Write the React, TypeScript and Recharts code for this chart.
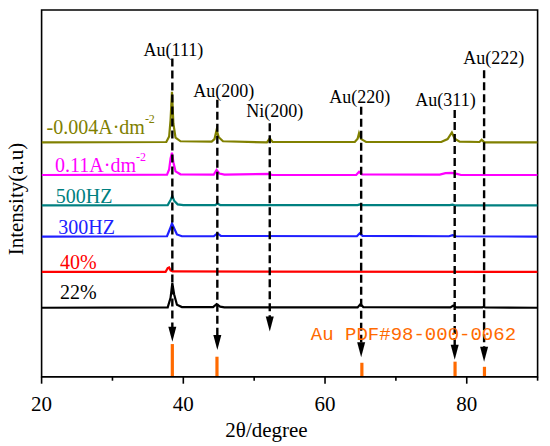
import React from "react";
import {
  LineChart,
  Line,
  XAxis,
  YAxis,
  ReferenceLine,
  ReferenceDot,
  ReferenceArea,
} from "recharts";

const FONT = "'Liberation Serif', 'Times New Roman', serif";

// x ticks (2θ, degree)
const xTicks = [20, 30, 40, 50, 60, 70, 80, 90];

// XRD patterns, [2θ, intensity offset a.u.]
const olive = [
  [20, 63.9], [37.6, 64.0], [38.0, 65.5], [38.2, 70], [38.4, 77.7], [38.6, 69], [38.9, 65.2], [39.6, 64.2],
  [44.0, 64.1], [44.4, 64.8], [44.7, 67.3], [45.0, 65.3], [45.6, 64.2], [51.8, 63.9], [52.2, 65.0], [52.6, 64.0],
  [64.2, 64.0], [64.6, 64.9], [64.8, 66.4], [65.1, 64.8], [65.8, 64.0], [76.4, 64.0], [77.3, 64.8], [77.9, 66.6],
  [78.3, 64.9], [79.0, 64.1], [81.8, 64.0], [82.1, 64.6], [82.5, 63.9], [90, 63.9],
];
const pink = [
  [20, 55.0], [37.7, 55.1], [38.0, 56.5], [38.2, 59.5], [38.4, 61.1], [38.6, 58.5], [38.9, 56.0], [39.6, 55.2],
  [44.3, 55.1], [44.7, 56.4], [45.1, 55.4], [45.8, 55.1], [52.2, 55.3], [52.5, 55.0], [64.4, 55.0], [64.8, 55.9],
  [65.2, 55.2], [76.2, 55.1], [77.0, 55.5], [77.9, 55.6], [78.6, 55.3], [79.2, 55.0], [90, 55.0],
];
const teal = [
  [20, 46.7], [37.8, 46.8], [38.2, 48.2], [38.45, 49.3], [38.7, 48.0], [39.2, 47.0], [40, 46.8], [44.5, 46.8],
  [44.8, 47.2], [45.2, 46.8], [64.6, 46.8], [64.9, 47.0], [65.3, 46.8], [77.6, 46.8], [78.0, 46.9], [78.4, 46.7],
  [90, 46.7],
];
const blue = [
  [20, 38.2], [37.7, 38.3], [38.1, 40.2], [38.4, 41.8], [38.7, 40.5], [39.1, 38.8], [39.8, 38.3], [44.3, 38.3],
  [44.8, 39.1], [45.3, 38.4], [64.5, 38.3], [64.9, 39.1], [65.3, 38.4], [77.5, 38.3], [78.0, 38.6], [78.5, 38.3],
  [90, 38.2],
];
const red = [
  [20, 28.6], [37.5, 28.6], [37.8, 29.6], [38.0, 29.8], [38.2, 29.0], [38.5, 28.7], [90, 28.6],
];
const black = [
  [20, 18.8], [37.8, 18.9], [38.2, 21.5], [38.45, 25.5], [38.7, 22.5], [39.1, 19.6], [39.8, 19.0], [44.2, 19.0],
  [44.7, 19.8], [45.2, 19.1], [45.8, 18.9], [64.6, 18.9], [65.0, 19.8], [65.4, 19.0], [77.7, 18.9], [78.1, 19.4],
  [78.5, 18.9], [82.2, 18.9], [82.4, 19.1], [82.6, 18.9], [90, 18.8],
];

const seriesNames = ["-0.004A·dm", "0.11A·dm", "500HZ", "300HZ", "40%", "22%"];
const seriesColors = ["#808000", "#ff00ff", "#008080", "#2020ff", "#ff0000", "#000000"];
const seriesData = [olive, pink, teal, blue, red, black];
// label anchor [x, y] and whether a "-2" exponent follows
const seriesLabelPos = [[20.7, 68.2], [21.9, 57.7], [22.0, 49.3], [22.35, 40.9], [22.6, 31.4], [22.6, 23.2]];
const seriesSup = [true, true, false, false, false, false];

// peak assignments: label, 2θ, label pos, dashed arrow from / to
const peakNames = ["Au(111)", "Au(200)", "Ni(200)", "Au(220)", "Au(311)", "Au(222)"];
const peakX = [38.45, 44.8, 52.2, 65.1, 78.3, 82.45];
const peakLabelPos = [[38.6, 89.1], [45.7, 78.0], [52.9, 72.5], [64.9, 76.4], [77.0, 75.5], [83.8, 86.8]];
const arrowTop = [86.8, 75.5, 69.1, 73.6, 72.7, 83.6];
const arrowTip = [9.5, 7.3, 12.3, 5.3, 4.6, 4.1];

// Au PDF#98-000-0062 reference lines
const pdfX = [38.45, 44.75, 65.2, 78.35, 82.5];
const pdfI = [8.9, 5.45, 3.8, 4.1, 2.7];

const toRows = (pts: number[][]) => pts.map(([x, y]) => ({ x, y }));

const XTick = (props: any) => {
  const { x, y, payload } = props;
  const major = payload.value % 20 === 0;
  return (
    <g>
      <line x1={x} y1={y} x2={x} y2={y + (major ? 7 : 4)} stroke="#000" strokeWidth={1.6} />
      {major && (
        <text x={x} y={y + 27} textAnchor="middle" dominantBaseline="central" fontSize={21} fontFamily={FONT} fill="#000">
          {payload.value}
        </text>
      )}
    </g>
  );
};

export default function App() {
  return (
    <div style={{ position: "absolute", left: 0, top: 0, width: 550, height: 446, background: "#fff" }}>
      <LineChart width={550} height={446} margin={{ top: 10, right: 12.4, bottom: 9.3, left: 41.6 }}>
        <XAxis
          dataKey="x"
          type="number"
          domain={[20, 90]}
          ticks={xTicks}
          allowDataOverflow
          height={60}
          tickSize={0}
          tickMargin={0}
          tickLine={false}
          tick={<XTick />}
          axisLine={{ stroke: "#000", strokeWidth: 1.6 }}
        />
        <YAxis type="number" domain={[0, 100]} width={0} tick={false} tickLine={false} axisLine={{ stroke: "#000", strokeWidth: 1.6 }} />

        <ReferenceArea x1={20} x2={90} y1={0} y2={100} fill="none" stroke="#000" strokeWidth={1.6} />

        {seriesData.map((pts, i) => (
          <Line
            key={seriesNames[i]}
            data={toRows(pts)}
            dataKey="y"
            type="linear"
            stroke={seriesColors[i]}
            strokeWidth={2.2}
            dot={false}
            isAnimationActive={false}
          />
        ))}

        {pdfX.map((x, i) => (
          <ReferenceLine
            key={"pdf" + i}
            segment={[{ x, y: 0 }, { x, y: pdfI[i] }]}
            stroke="#ff6a00"
            strokeWidth={3.2}
          />
        ))}

        {peakX.map((x, i) => (
          <ReferenceLine
            key={"ar" + i}
            segment={[{ x, y: arrowTop[i] }, { x, y: arrowTip[i] + 4 }]}
            stroke="#000"
            strokeWidth={2.4}
            strokeDasharray="8 4"
          />
        ))}
        {peakX.map((x, i) => (
          <ReferenceDot
            key={"ah" + i}
            x={x}
            y={arrowTip[i]}
            r={1}
            shape={(p: any) => (
              <polygon points={`${p.cx - 4},${p.cy - 15} ${p.cx + 4},${p.cy - 15} ${p.cx},${p.cy}`} fill="#000" />
            )}
          />
        ))}
        {peakNames.map((name, i) => (
          <ReferenceDot
            key={"pl" + i}
            x={peakLabelPos[i][0]}
            y={peakLabelPos[i][1]}
            r={1}
            shape={(p: any) => (
              <text x={p.cx} y={p.cy} textAnchor="middle" dominantBaseline="central" fontSize={18} fontFamily={FONT} fill="#000">
                {name}
              </text>
            )}
          />
        ))}
        {seriesNames.map((name, i) => (
          <ReferenceDot
            key={"sl" + i}
            x={seriesLabelPos[i][0]}
            y={seriesLabelPos[i][1]}
            r={1}
            shape={(p: any) => (
              <text x={p.cx} y={p.cy} dominantBaseline="central" fontSize={20} fontFamily={FONT} fill={seriesColors[i]}>
                {name}
                {seriesSup[i] && (
                  <tspan fontSize={12} dy={-8}>-2</tspan>
                )}
              </text>
            )}
          />
        ))}
        <ReferenceDot
          x={58.0}
          y={11.4}
          r={1}
          shape={(p: any) => (
            <text x={p.cx} y={p.cy} dominantBaseline="central" fontSize={19} fontFamily="'Liberation Mono', 'DejaVu Sans Mono', monospace" fill="#ff6a00">
              Au PDF#98-000-0062
            </text>
          )}
        />
      </LineChart>
      <div style={{ position: "absolute", left: 266.5, top: 430, transform: "translate(-50%, -50%)", fontFamily: FONT, fontSize: 21, whiteSpace: "nowrap" }}>
        2θ/degree
      </div>
      <div style={{ position: "absolute", left: 16, top: 199, transform: "translate(-50%, -50%) rotate(-90deg)", fontFamily: FONT, fontSize: 21, whiteSpace: "nowrap" }}>
        Intensity(a.u)
      </div>
    </div>
  );
}
